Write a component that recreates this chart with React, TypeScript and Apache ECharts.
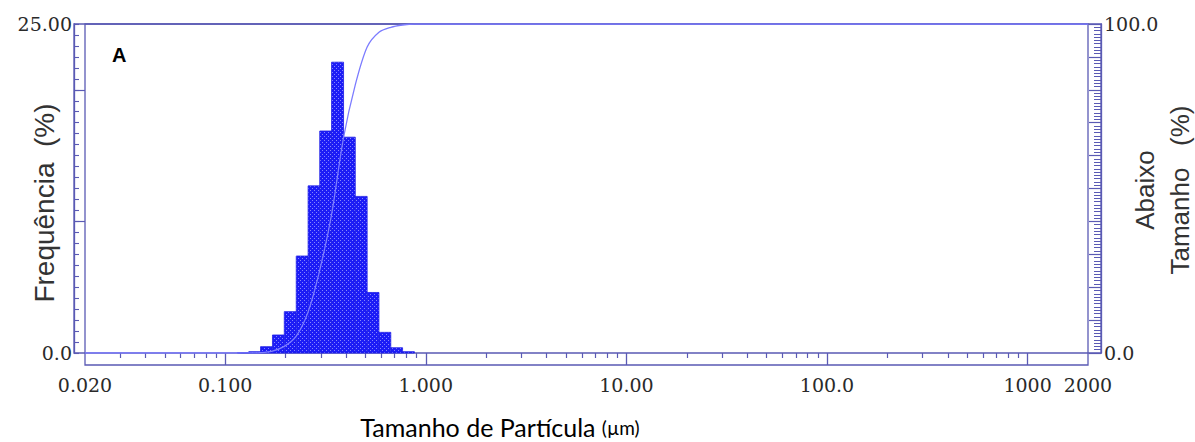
import React, { useEffect, useRef, useState } from "react";
import * as echarts from "echarts";

// Histogram bin edges (µm) and frequency (%) per bin
const binEdges = [0.115, 0.131, 0.150, 0.172, 0.197, 0.226, 0.259, 0.296, 0.339, 0.389, 0.445, 0.510, 0.584, 0.669, 0.766, 0.877];
const frequency = [0.03, 0.1, 0.48, 1.37, 3.14, 7.37, 12.7, 16.87, 22.1, 16.4, 11.9, 4.6, 1.57, 0.4, 0.1];

// Cumulative undersize curve (%)
const cumSize = [0.02, 0.115, 0.131, 0.150, 0.172, 0.197, 0.226, 0.259, 0.296, 0.339, 0.389, 0.445, 0.510, 0.584, 0.669, 0.766, 0.877, 2000];
const cumValue = [0, 0, 0.03, 0.13, 0.6, 2.0, 5.1, 12.5, 25.2, 42.1, 65.5, 81.5, 93.0, 97.5, 99.0, 99.7, 100, 100];

// Axis tick labels
const xLabelValues = [0.02, 0.1, 1, 10, 100, 1000, 2000];
const xLabelTexts = ["0.020", "0.100", "1.000", "10.00", "100.0", "1000", "2000"];
const xMajorTicks = [0.1, 1, 10, 100, 1000];
const xMinorTicks = [
  0.03, 0.04, 0.05, 0.06, 0.07, 0.08, 0.09,
  0.2, 0.3, 0.4, 0.5, 0.6, 0.7, 0.8, 0.9,
  2, 3, 4, 5, 6, 7, 8, 9,
  20, 30, 40, 50, 60, 70, 80, 90,
  200, 300, 400, 500, 600, 700, 800, 900,
];
const leftLabelValues = [0, 25];
const leftLabelTexts = ["0.0", "25.00"];
const leftMajorTicks = [10, 20];
const leftMinorStep = 25 / 30;
const rightLabelValues = [0, 100];
const rightLabelTexts = ["0.0", "100.0"];

const AXIS_COLOR = "#5a5ab4";
const LABEL_FONT = "'DejaVu Serif', 'Liberation Serif', serif";
const LABEL_SIZE = 19;

function findLabel(values: number[], texts: string[], v: number) {
  for (let i = 0; i < values.length; i++) {
    if (Math.abs(v - values[i]) <= Math.abs(values[i]) * 1e-6 + 1e-9) return texts[i];
  }
  return "";
}

const hiddenParts = {
  axisLine: { show: false },
  axisTick: { show: false },
  axisLabel: { show: false },
  splitLine: { show: false },
};

function makePattern() {
  const c = document.createElement("canvas");
  c.width = 4;
  c.height = 4;
  const ctx = c.getContext("2d")!;
  ctx.fillStyle = "#1c1cf6";
  ctx.fillRect(0, 0, 4, 4);
  ctx.fillStyle = "rgba(150,150,255,0.85)";
  ctx.fillRect(0, 0, 1, 1);
  ctx.fillRect(2, 2, 1, 1);
  return c;
}

export default function App() {
  const ref = useRef<HTMLDivElement>(null);
  const [err, setErr] = useState("");
  useEffect(() => {
    if (!ref.current) return;
    const chart = echarts.init(ref.current, undefined, { renderer: "svg" });
    const bars = frequency.map((f, i) => [binEdges[i], binEdges[i + 1], f]);
    const cum = cumSize.map((s, i) => [s, cumValue[i]]);
    const leftMinorTicks: number[] = [];
    for (let v = 0; v <= 25 + 1e-9; v += leftMinorStep) leftMinorTicks.push(v);

    let fill: any = "#2424f2";
    try {
      fill = { image: makePattern(), repeat: "repeat" };
    } catch (e) {
      fill = "#2424f2";
    }

    try {
      chart.setOption({
        animation: false,
        grid: [
          { left: 85, top: 24, width: 1003, height: 341, show: true, borderColor: AXIS_COLOR, borderWidth: 1.3, backgroundColor: "transparent" },
          { left: 74, top: 24, width: 1027, height: 329, show: true, borderColor: AXIS_COLOR, borderWidth: 1.3, backgroundColor: "transparent" },
          { left: 85, top: 24, width: 1003, height: 329 },
        ],
        xAxis: [
          {
            gridIndex: 2, type: "log", logBase: 10, min: 0.02, max: 2000, position: "bottom",
            axisLine: { show: false },
            axisTick: { show: true, customValues: xMinorTicks, length: 5, inside: false, lineStyle: { color: AXIS_COLOR, width: 1.2 } },
            axisLabel: {
              show: true, customValues: xLabelValues, margin: 22, color: "#2a2a2a", fontSize: LABEL_SIZE, fontFamily: LABEL_FONT,
              formatter: (v: number) => findLabel(xLabelValues, xLabelTexts, v),
            },
            splitLine: { show: false },
          },
          {
            gridIndex: 0, type: "log", logBase: 10, min: 0.02, max: 2000, position: "bottom",
            axisLine: { show: false },
            axisTick: { show: true, customValues: xMajorTicks, length: 12, inside: true, lineStyle: { color: AXIS_COLOR, width: 1.3 } },
            axisLabel: { show: false },
            splitLine: { show: false },
          },
          { gridIndex: 1, type: "value", min: 0, max: 1, ...hiddenParts },
        ],
        yAxis: [
          {
            gridIndex: 2, type: "value", position: "left", offset: 11, min: 0, max: 25,
            axisLine: { show: true, lineStyle: { color: AXIS_COLOR, width: 1.3 } },
            axisTick: { show: true, inside: true, customValues: leftMinorTicks, length: 5, lineStyle: { color: AXIS_COLOR, width: 1.1 } },
            axisLabel: {
              show: true, customValues: leftLabelValues, margin: 2, color: "#2a2a2a", fontSize: LABEL_SIZE, fontFamily: LABEL_FONT,
              formatter: (v: number) => findLabel(leftLabelValues, leftLabelTexts, v),
            },
            splitLine: { show: false },
          },
          {
            gridIndex: 2, type: "value", position: "left", offset: 11, min: 0, max: 25,
            axisLine: { show: false },
            axisTick: { show: true, inside: true, customValues: leftMajorTicks, length: 11, lineStyle: { color: AXIS_COLOR, width: 1.2 } },
            axisLabel: { show: false },
            splitLine: { show: false },
          },
          {
            gridIndex: 2, type: "value", position: "right", offset: 13, min: 0, max: 100, interval: 10,
            axisLine: { show: true, lineStyle: { color: AXIS_COLOR, width: 1.3 } },
            axisTick: { show: true, inside: true, length: 12, lineStyle: { color: AXIS_COLOR, width: 1.2 } },
            minorTick: { show: true, splitNumber: 10, length: 7, lineStyle: { color: AXIS_COLOR, width: 1 } },
            axisLabel: {
              show: true, customValues: rightLabelValues, margin: 3, color: "#2a2a2a", fontSize: LABEL_SIZE, fontFamily: LABEL_FONT,
              formatter: (v: number) => findLabel(rightLabelValues, rightLabelTexts, v),
            },
            splitLine: { show: false },
          },
          { gridIndex: 1, type: "value", min: 0, max: 1, ...hiddenParts },
          { gridIndex: 0, type: "value", min: 0, max: 1, ...hiddenParts },
        ],
        series: [
          {
            type: "custom",
            xAxisIndex: 0,
            yAxisIndex: 0,
            data: bars,
            encode: { x: [0, 1], y: 2 },
            renderItem: (params: any, api: any) => {
              const p1 = api.coord([api.value(0), api.value(2)]);
              const p2 = api.coord([api.value(1), 0]);
              return {
                type: "rect",
                shape: { x: p1[0], y: p1[1], width: p2[0] - p1[0], height: p2[1] - p1[1] },
                style: { fill, stroke: "#2020e6", lineWidth: 0.8 },
              };
            },
            z: 2,
          },
          {
            type: "line",
            xAxisIndex: 0,
            yAxisIndex: 2,
            data: cum,
            smooth: 0.3,
            showSymbol: false,
            lineStyle: { color: "#7c7cff", width: 1.3 },
            z: 3,
          },
        ],
        graphic: [
          {
            type: "text", left: 112, top: 45,
            style: { text: "A", fontSize: 20, fontWeight: "bold", fontFamily: "'Liberation Sans', Arial, sans-serif", fill: "#000" },
          },
          {
            type: "text", x: 44, y: 203, rotation: Math.PI / 2,
            style: { text: "Frequência  (%)", fontSize: 28, fontFamily: "'Liberation Sans', Arial, sans-serif", fill: "#333", align: "center", verticalAlign: "middle" },
          },
          {
            type: "text", x: 1162, y: 190, rotation: Math.PI / 2,
            style: { text: "Abaixo\nTamanho   (%)", fontSize: 26, lineHeight: 35, fontFamily: "'Liberation Sans', Arial, sans-serif", fill: "#333", align: "center", verticalAlign: "middle" },
          },
          {
            type: "text", x: 500, y: 427,
            style: {
              text: "{a|Tamanho de Partícula }{b|(µm)}",
              align: "center", verticalAlign: "middle",
              rich: {
                a: { fontSize: 25, fontFamily: "Lato, 'Open Sans', sans-serif", fill: "#000" },
                b: { fontSize: 19, fontFamily: "Lato, 'Open Sans', sans-serif", fill: "#000" },
              },
            },
          },
        ],
      });
    } catch (e: any) {
      setErr(String(e && e.stack ? e.stack : e).slice(0, 600));
    }
    return () => chart.dispose();
  }, []);
  return (
    <>
      <div ref={ref} style={{ position: "absolute", left: 0, top: 0, width: 1195, height: 442 }} />
      {err ? <pre style={{ position: "absolute", left: 0, top: 0, fontSize: 10, whiteSpace: "pre-wrap", width: 1190 }}>{err}</pre> : null}
    </>
  );
}
